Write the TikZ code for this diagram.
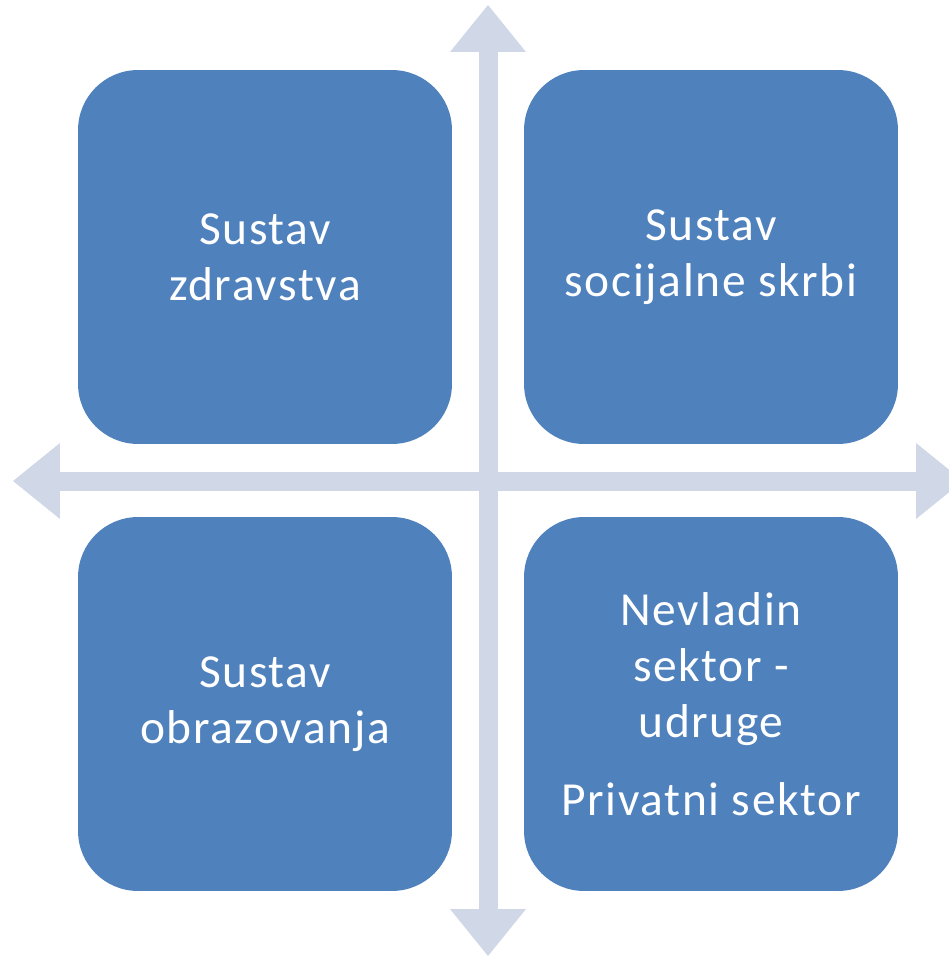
\documentclass[tikz,border=0pt]{standalone}
\usepackage{fontspec}
\setmainfont{Carlito}[LetterSpace=3.5]
\usetikzlibrary{arrows.meta}

\definecolor{boxBlue}{HTML}{4F81BD}
\definecolor{axisGray}{HTML}{D0D8E8}

\begin{document}
\begin{tikzpicture}
[x=0.02cm,y=-0.02cm,
  boxDecorate/.style={shape=rectangle,rounded corners=1.2cm,fill=boxBlue,
    minimum width=7.48cm,minimum height=7.48cm,inner sep=0pt,
    text=white,align=center,font=\fontsize{27}{32}\selectfont},
  axisDecorate/.style={draw=axisGray,line width=0.38cm,
    {Triangle[width=1.52cm,length=0.94cm,line width=0pt]}-{Triangle[width=1.52cm,length=0.94cm,line width=0pt]}}]
\clip (0,0) rectangle (949,956);
%% axis end points
\coordinate (top) at (488,5);
\coordinate (bottom) at (488,956);
\coordinate (left) at (13,481);
\coordinate (right) at (963,481);
\draw[axisDecorate] (top) -- (bottom);
\draw[axisDecorate] (left) -- (right);
%% the four boxes
\foreach \nodename/\x/\y/\label in {
  zdrav/265/257/{Sustav\\ zdravstva},
  socijal/711/257/{Sustav\\ socijalne skrbi},
  obraz/265/704/{Sustav\\ obrazovanja},
  nevlad/711/704/{Nevladin\\ sektor -\\ udruge\\[12pt] Privatni sektor}}
{
  \node (\nodename) at (\x,\y) [boxDecorate] {\label};
}
\end{tikzpicture}
\end{document}
